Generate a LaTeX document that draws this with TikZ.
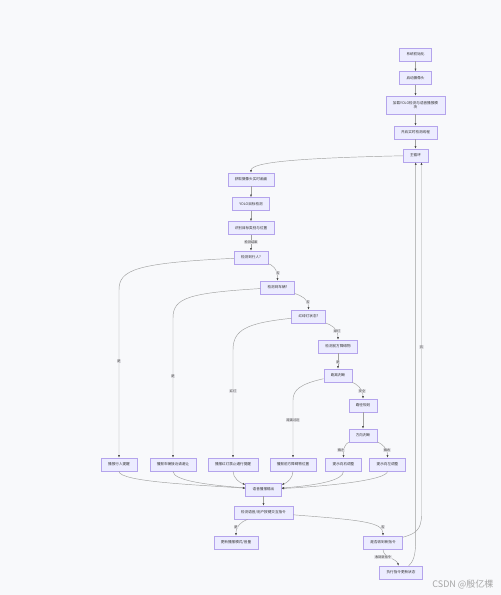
\documentclass[tikz,border=0pt]{standalone}
\usepackage{fontspec}
\newfontfamily\cjk{Noto Sans CJK SC}
\usetikzlibrary{arrows.meta}
\definecolor{boxfill}{HTML}{ECECFF}
\definecolor{boxline}{HTML}{B4A4EC}
\definecolor{edgeline}{HTML}{A0A0A0}
\definecolor{lblfill}{HTML}{E6E6EA}
\definecolor{bgpage}{HTML}{F8F9FB}
\tikzset{
  flowbox/.style={draw=boxline, fill=boxfill, line width=0.5pt, font=\cjk\fontsize{3.6pt}{4.4pt}\selectfont,
    text=black!80, inner xsep=7pt, inner ysep=1pt, minimum height=13pt, align=center},
  edgelbl/.style={fill=lblfill, font=\cjk\fontsize{3.2pt}{3.8pt}\selectfont, text=black!75, inner sep=0.7pt},
  flow/.style={draw=edgeline, line width=0.45pt, -{Latex[length=2.6pt,width=2pt,color=black!70]}},
}

\begin{document}
\begin{tikzpicture}[x=1pt,y=-1pt]
\fill [bgpage] (0,0) rectangle (501,595);

\node [flowbox] (init)     at (415.5,54.5) {系统初始化};
\node [flowbox] (cam)      at (415.5,78)   {启动摄像头};
\node [flowbox, minimum height=18pt] (model) at (415.5,105) {加载YOLO检测与语音播报模\\块};
\node [flowbox] (thread)   at (415.5,132.5) {开启实时检测线程};
\node [flowbox] (mainloop) at (415.5,155.5) {主循环};

\node [flowbox] (grab)     at (251,179.5) {获取摄像头实时画面};
\node [flowbox] (yolo)     at (251,204)   {YOLO目标检测};
\node [flowbox] (cls)      at (251,228)   {识别目标类别与位置};
\node [flowbox] (qperson)  at (251,257.5) {检测到行人?};
\node [flowbox] (qcar)     at (277.5,287.5) {检测到车辆?};
\node [flowbox] (qlight)   at (308.5,316.5) {红绿灯状态?};
\node [flowbox] (qobst)    at (338,346.5) {检测前方障碍物};
\node [flowbox] (qdist)    at (338,375.5) {距离判断};
\node [flowbox] (plan)     at (363,405.5) {路径规划};
\node [flowbox] (qdir)     at (363,435.5) {方向判断};

\node [flowbox] (sayperson) at (119,464.5)   {播报行人提醒};
\node [flowbox] (saycar)    at (173,464.5)   {播报车辆接近请避让};
\node [flowbox] (saylight)  at (233,464.5)   {播报红灯禁止通行提醒};
\node [flowbox] (sayobst)   at (293,464.5)   {播报前方障碍物位置};
\node [flowbox] (sayright)  at (343.5,464.5) {提示向右调整};
\node [flowbox] (sayleft)   at (387.5,464.5) {提示向左调整};

\node [flowbox] (voice)    at (263.5,489.5) {语音播报输出};
\node [flowbox] (qcmd)     at (263.5,512.5) {检测语音/用户按键交互指令};
\node [flowbox] (update)   at (236,542.5)   {更新播报模式/音量};
\node [flowbox] (qnew)     at (383,542.5)   {是否收到新指令};
\node [flowbox] (exec)     at (401,572.5)   {执行指令更新状态};

\coordinate (bp1) at (119,290);
\coordinate (bp2) at (173,318);
\coordinate (bp3) at (233,350);
\coordinate (bp4) at (293,400);
\coordinate (cr)  at (421.5,515);
\coordinate (cl)  at (415.7,540);

\draw [flow] (init) -- (cam);
\draw [flow] (cam) -- (model);
\draw [flow] (model) -- (thread);
\draw [flow] (thread) -- (mainloop);
\draw [flow] (mainloop) .. controls (300,158) and (251,162) .. (grab);
\draw [flow] (grab) -- (yolo);
\draw [flow] (yolo) -- (cls);
\draw [flow] (cls) -- (qperson);
\draw [flow] (qperson) .. controls (272,265) and (277.5,268) .. (qcar);
\draw [flow] (qcar) .. controls (302,296) and (308.5,299) .. (qlight);
\draw [flow] (qlight) .. controls (331,325) and (338,328) .. (qobst);
\draw [flow] (qobst) -- (qdist);
\draw [flow] (qdist) .. controls (356,384) and (363,388) .. (plan);
\draw [flow] (plan) -- (qdir);
\draw [flow] (qdir) .. controls (345,444) and (343.5,448) .. (sayright);
\draw [flow] (qdir) .. controls (382,444) and (387.5,448) .. (sayleft);

\draw [flow] (qperson) .. controls (135,263) and (119,270) .. (bp1) -- (sayperson);
\draw [flow] (qcar) .. controls (188,293) and (173,298) .. (bp2) -- (saycar);
\draw [flow] (qlight) .. controls (246,323) and (233,330) .. (bp3) -- (saylight);
\draw [flow] (qdist) .. controls (300,384) and (293,390) .. (bp4) -- (sayobst);

\draw [flow] (sayperson) .. controls (119,482) and (200,485) .. (voice);
\draw [flow] (saycar) .. controls (173,481) and (210,485) .. (voice);
\draw [flow] (saylight) .. controls (233,478) and (240,483) .. (voice);
\draw [flow] (sayobst) .. controls (293,478) and (287,483) .. (voice);
\draw [flow] (sayright) .. controls (343.5,480) and (320,485) .. (voice);
\draw [flow] (sayleft) .. controls (387.5,480) and (330,486) .. (voice);

\draw [flow] (voice) -- (qcmd);
\draw [flow] (qcmd) .. controls (241,522) and (236,526) .. (update);
\draw [flow] (qcmd) .. controls (360,520) and (383,522) .. (qnew);
\draw [flow] (qnew) .. controls (383,558) and (396,558) .. (exec);
\draw [flow] (qnew) .. controls (415,534) and (421.5,530) .. (cr) -- (cr |- mainloop.south);
\draw [flow] (exec) .. controls (413,562) and (415.7,556) .. (cl) -- (cl |- mainloop.south);

\node [edgelbl] (lresult) at (251,242)   {检测结果};
\node [edgelbl] (lno1)    at (278,273)   {否};
\node [edgelbl] (lno2)    at (308,302)   {否};
\node [edgelbl] (lgreen)  at (337,331)   {绿灯};
\node [edgelbl] (lyes5)   at (338,362)   {是};
\node [edgelbl] (lsafe)   at (362,391)   {安全};
\node [edgelbl] (lleft)   at (341,450)   {偏左};
\node [edgelbl] (lright)  at (387,450)   {偏右};
\node [edgelbl] (lyes1)   at (119,361)   {是};
\node [edgelbl] (lyes2)   at (173,376)   {是};
\node [edgelbl] (lred)    at (233,391)   {红灯};
\node [edgelbl] (lnear)   at (293,420)   {距离过近};
\node [edgelbl] (lyes6)   at (236,527)   {是};
\node [edgelbl] (lno6)    at (383,527)   {否};
\node [edgelbl] (lgot)    at (383,557)   {收到新指令};
\node [edgelbl] (lno7)    at (421.5,347) {否};

\node [font=\cjk\fontsize{9pt}{10pt}\selectfont, text=black!35, anchor=east] (mark) at (497,584) {CSDN @殷亿棵};
\end{tikzpicture}
\end{document}
